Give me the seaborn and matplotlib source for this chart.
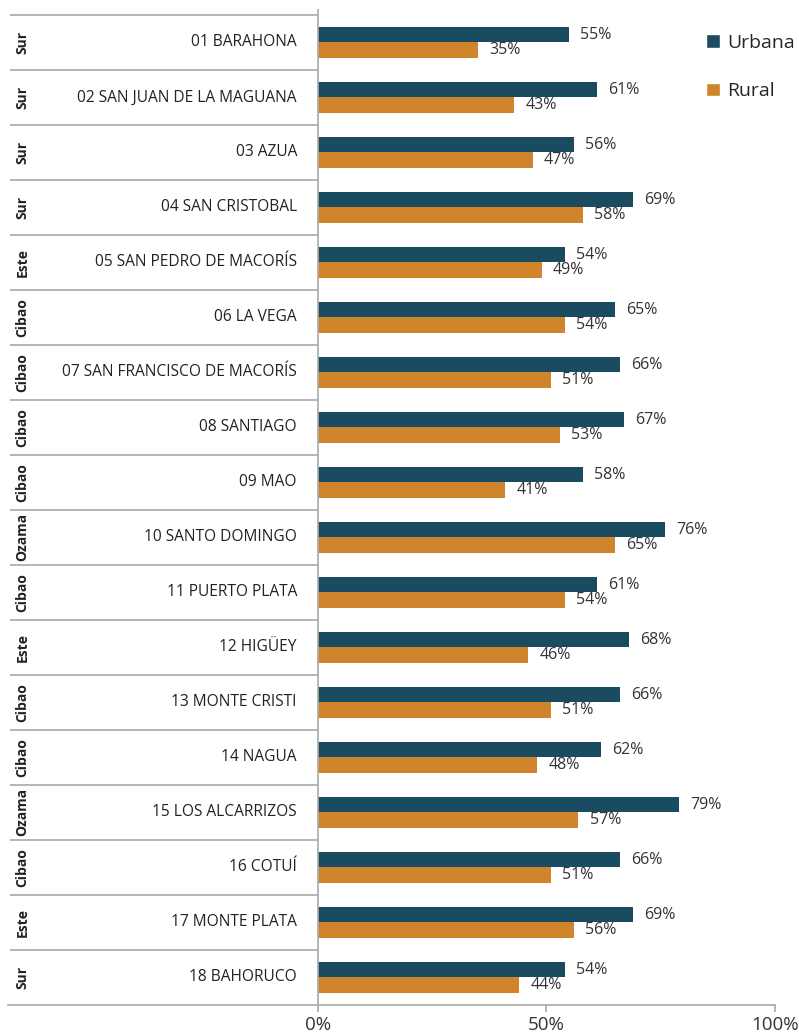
import pandas as pd
import matplotlib
matplotlib.use("Agg")
import matplotlib.pyplot as plt
import seaborn as sns
from matplotlib.patches import Patch

sns.set_theme(style="white")
plt.rcParams['font.family'] = ['Open Sans', 'DejaVu Sans']

# Data
provincias = ["01 BARAHONA", "02 SAN JUAN DE LA MAGUANA", "03 AZUA", "04 SAN CRISTOBAL",
              "05 SAN PEDRO DE MACORÍS", "06 LA VEGA", "07 SAN FRANCISCO DE MACORÍS",
              "08 SANTIAGO", "09 MAO", "10 SANTO DOMINGO", "11 PUERTO PLATA", "12 HIGÜEY",
              "13 MONTE CRISTI", "14 NAGUA", "15 LOS ALCARRIZOS", "16 COTUÍ",
              "17 MONTE PLATA", "18 BAHORUCO"]
regiones = ["Sur", "Sur", "Sur", "Sur", "Este", "Cibao", "Cibao", "Cibao", "Cibao",
            "Ozama", "Cibao", "Este", "Cibao", "Cibao", "Ozama", "Cibao", "Este", "Sur"]
urbana = [55, 61, 56, 69, 54, 65, 66, 67, 58, 76, 61, 68, 66, 62, 79, 66, 69, 54]
rural = [35, 43, 47, 58, 49, 54, 51, 53, 41, 65, 54, 46, 51, 48, 57, 51, 56, 44]
zonas = ["Urbana", "Rural"]
colores = {"Urbana": "#1b4b60", "Rural": "#d0852c"}

df = pd.DataFrame({
    "provincia": provincias * 2,
    "valor": urbana + rural,
    "zona": ["Urbana"] * len(urbana) + ["Rural"] * len(rural),
})

W, H = 799, 1034
fig = plt.figure(figsize=(W / 100, H / 100), dpi=100)
ax = fig.add_axes([8 / W, 1 - 1005 / H, (775 - 8) / W, (1005 - 15) / H])

sns.barplot(data=df, y="provincia", x="valor", hue="zona", hue_order=zonas,
            order=provincias, palette=colores, saturation=1, width=0.57,
            linewidth=0, orient="h", ax=ax, legend=False)

for cont in ax.containers:
    ax.bar_label(cont, fmt="{:.0f}%", padding=8, fontsize=11.5, color="#333333")

xmin = -67.8
ax.set_xlim(xmin, 100)
ax.set_ylim(len(provincias) - 0.5, -0.5)

# left "table" area
line_c = "#a9a9a9"
for i in range(len(provincias)):
    ax.hlines(i - 0.5, xmin + 0.4, 0, color=line_c, lw=1.2, clip_on=False)
    ax.text(-4.6, i, provincias[i], ha="right", va="center", fontsize=11.2, color="#222222")
    ax.text(-64.6, i, regiones[i], ha="center", va="center", rotation=90,
            fontsize=10, fontweight="bold", color="#222222")
ax.vlines(0, -0.6, len(provincias) - 0.5, color=line_c, lw=1.2, clip_on=False)

for s in ["top", "right", "left"]:
    ax.spines[s].set_visible(False)
ax.spines["bottom"].set_color(line_c)
ax.spines["bottom"].set_linewidth(1.2)

ax.set_xticks([0, 50, 100])
ax.set_xticklabels(["0%", "50%", "100%"])
ax.tick_params(axis="x", bottom=True, length=5, color=line_c, width=1.2,
               labelsize=13.5, labelcolor="#333333", pad=3)
ax.set_yticks([])
ax.set_xlabel("")
ax.set_ylabel("")

handles = [Patch(facecolor=colores[z], label=z) for z in zonas]
fig.legend(handles=handles, loc="upper left", bbox_to_anchor=(706 / W, 1 - 34 / H),
           frameon=False, fontsize=14, handlelength=0.7, handleheight=0.7,
           handletextpad=0.4, labelspacing=1.55, borderaxespad=0, borderpad=0)

fig.savefig("out.png", dpi=100)
